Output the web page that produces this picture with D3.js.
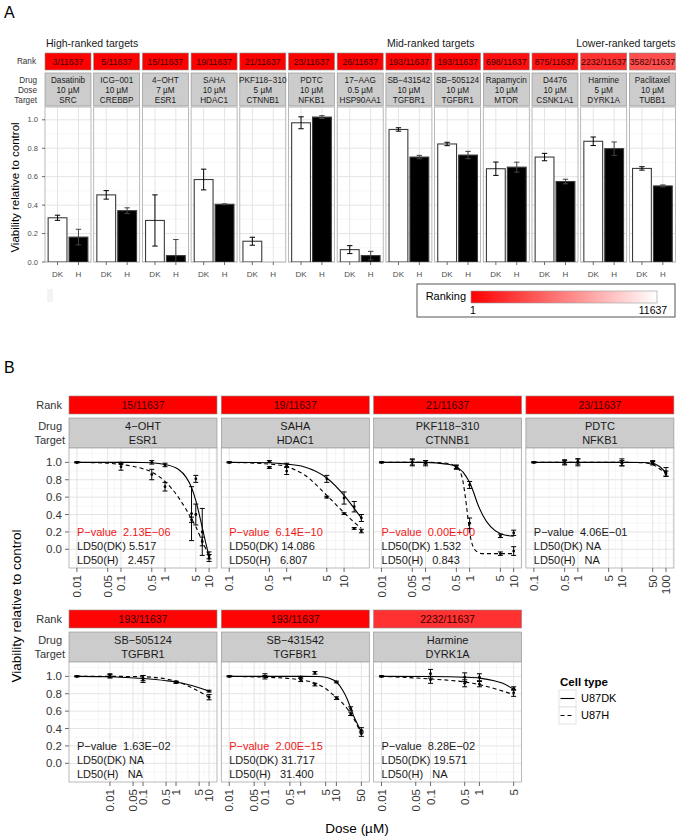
<!DOCTYPE html>
<html><head><meta charset="utf-8">
<script src="https://cdn.jsdelivr.net/npm/d3@7"></script>
<style>body{margin:0;background:#fff} svg text{font-family:"Liberation Sans",Arial,Helvetica,sans-serif}</style>
</head><body><svg id="c" width="679" height="838"></svg>
<script>
// ================= DATA =================
const totalRank = 11637;
// ---- Panel A
const aDrugs   = ["Dasatinib","ICG−001","4−OHT","SAHA","PKF118−310","PDTC","17−AAG","SB−431542","SB−505124","Rapamycin","D4476","Harmine","Paclitaxel"];
const aDoses   = ["10 µM","10 µM","7 µM","10 µM","5 µM","10 µM","0.5 µM","10 µM","10 µM","10 µM","10 µM","5 µM","10 µM"];
const aTargets = ["SRC","CREBBP","ESR1","HDAC1","CTNNB1","NFKB1","HSP90AA1","TGFBR1","TGFBR1","MTOR","CSNK1A1","DYRK1A","TUBB1"];
const aRanks   = [3,5,15,19,21,23,26,193,193,698,875,2232,3582];
const aDK      = [0.311,0.472,0.292,0.580,0.146,0.979,0.087,0.932,0.830,0.656,0.738,0.849,0.658];
const aDKerr   = [0.018,0.030,0.180,0.073,0.028,0.042,0.028,0.012,0.012,0.047,0.026,0.030,0.012];
const aH       = [0.175,0.361,0.045,0.406,0.000,1.019,0.045,0.738,0.752,0.667,0.566,0.797,0.535];
const aHerr    = [0.055,0.020,0.113,0.003,null,0.010,0.030,0.012,0.026,0.035,0.016,0.047,0.007];
const aCells   = ["DK","H"];
const aYTicks  = [0,0.2,0.4,0.6,0.8,1.0];
const aGroups  = ["High-ranked targets","Mid-ranked targets","Lower-ranked targets"];
const aGroupAt = [0,7,12];

// ---- Panel B
const bDrugs   = ["4−OHT","SAHA","PKF118−310","PDTC","SB−505124","SB−431542","Harmine"];
const bTargets = ["ESR1","HDAC1","CTNNB1","NFKB1","TGFBR1","TGFBR1","DYRK1A"];
const bRanks   = [15,19,21,23,193,193,2232];
const bPtext   = ["2.13E−06","6.14E−10","0.00E+00","4.06E−01","1.63E−02","2.00E−15","8.28E−02"];
const bPnum    = [2.13e-6,6.14e-10,0,0.406,0.0163,2.0e-15,0.0828];
const bLD50DK  = ["5.517","14.086","1.532","NA","NA","31.717","19.571"];
const bLD50H   = ["2.457","6.807","0.843","NA","NA","31.400","NA"];
const bXTicks  = [[0.01,0.05,0.1,0.5,1,5,10],[0.1,0.5,1,5,10],[0.01,0.05,0.1,0.5,1,5,10],[0.1,0.5,1,5,10,50,100],
                  [0.01,0.05,0.1,0.5,1,5,10],[0.01,0.05,0.1,0.5,1,5,10,50],[0.01,0.05,0.1,0.5,1,5]];
const bYTicks  = [0,0.2,0.4,0.6,0.8,1.0];
const cellTypes = ["U87DK","U87H"];

// 4-OHT
const ohtDose = [0.01,0.1,0.5,1,4,5,7,10];
const ohtDK   = [1.00,0.99,1.00,0.97,0.41,0.81,0.20,-0.07];
const ohtDKsd = [0.005,0.01,0.02,0.02,0.31,0.04,0.27,0.04];
const ohtH    = [1.00,0.95,0.86,0.72,0.34,0.40,0.09,-0.10];
const ohtHsd  = [0.005,0.04,0.06,0.05,0.03,0.12,0.05,0.04];
const ohtFitDose = [0.01,0.05,0.1,0.3,0.5,1,2,3,4,5,6,7,8,10];
const ohtFitDK   = [1.0,1.0,1.0,0.998,0.995,0.975,0.92,0.83,0.71,0.56,0.40,0.25,0.12,-0.08];
const ohtFitH    = [1.0,0.99,0.975,0.93,0.89,0.78,0.60,0.46,0.35,0.26,0.17,0.09,0.03,-0.08];
// SAHA
const sahaDose = [0.1,0.5,1,5,10,15,20];
const sahaDK   = [1.00,1.01,0.97,0.81,0.59,0.49,0.36];
const sahaDKsd = [0.005,0.01,0.02,0.04,0.07,0.06,0.04];
const sahaH    = [1.00,0.94,0.90,0.60,0.41,0.24,0.21];
const sahaHsd  = [0.005,0.01,0.04,0.01,0.01,0.01,0.02];
const sahaFitDose = [0.1,0.5,1,2,5,10,15,20];
const sahaFitDK   = [1.0,0.995,0.98,0.95,0.82,0.62,0.47,0.36];
const sahaFitH    = [1.0,0.98,0.95,0.86,0.62,0.42,0.31,0.24];
// PKF118-310
const pkfDose = [0.01,0.05,0.1,0.5,1,5,10];
const pkfDK   = [1.00,1.00,0.99,0.94,0.74,0.155,0.19];
const pkfDKsd = [0.005,0.04,0.03,0.02,0.04,0.02,0.03];
const pkfH    = [1.00,1.00,1.00,0.95,0.30,-0.05,-0.02];
const pkfHsd  = [0.005,0.03,0.02,0.02,0.06,0.02,0.05];
const pkfFitDose = [0.01,0.1,0.3,0.5,0.6,0.7,0.8,0.85,0.9,1,1.2,1.5,2,3,5,10];
const pkfFitDK   = [1.0,1.0,0.98,0.95,0.92,0.89,0.85,0.83,0.81,0.77,0.67,0.53,0.39,0.26,0.18,0.15];
const pkfFitH    = [1.0,1.0,0.99,0.95,0.90,0.79,0.60,0.50,0.39,0.20,0.03,-0.03,-0.05,-0.05,-0.05,-0.05];
// PDTC
const pdtcDose = [0.1,0.5,1,10,50,100];
const pdtcDK   = [1.00,1.00,1.01,1.00,1.00,0.87];
const pdtcDKsd = [0.005,0.03,0.03,0.04,0.02,0.03];
const pdtcH    = [1.00,1.00,1.00,0.99,0.99,0.89];
const pdtcHsd  = [0.005,0.02,0.04,0.03,0.02,0.05];
const pdtcFitDose = [0.1,1,10,30,50,70,100];
const pdtcFitDK   = [1.0,1.0,1.0,0.998,0.99,0.955,0.88];
const pdtcFitH    = [1.0,1.0,1.0,0.995,0.975,0.93,0.87];
// SB-505124
const sb5Dose = [0.001,0.01,0.1,1,10];
const sb5DK   = [1.00,1.01,0.97,0.935,0.83];
const sb5DKsd = [0.005,0.02,0.04,0.01,0.01];
const sb5H    = [1.00,1.00,0.98,0.93,0.76];
const sb5Hsd  = [0.005,0.02,0.03,0.01,0.03];
const sb5FitDose = [0.001,0.01,0.1,0.5,1,3,10];
const sb5FitDK   = [1.0,0.995,0.975,0.95,0.935,0.895,0.83];
const sb5FitH    = [1.0,1.0,0.995,0.97,0.945,0.87,0.76];
// SB-431542
const sb4Dose = [0.01,0.1,1,2.5,10,25,50];
const sb4DK   = [1.00,1.00,0.99,1.04,0.935,0.63,0.38];
const sb4DKsd = [0.005,0.03,0.01,0.015,0.01,0.02,0.03];
const sb4H    = [1.00,1.00,0.96,0.905,0.75,0.57,0.34];
const sb4Hsd  = [0.005,0.01,0.02,0.015,0.015,0.02,0.03];
const sb4FitDose = [0.01,0.1,0.5,1,3,5,8,10,15,20,30,40,50];
const sb4FitDK   = [1.0,1.0,1.0,1.0,0.998,0.99,0.96,0.935,0.84,0.74,0.55,0.44,0.36];
const sb4FitH    = [1.0,0.99,0.975,0.96,0.91,0.86,0.79,0.76,0.69,0.63,0.52,0.42,0.35];
// Harmine
const harDose = [0.01,0.1,0.5,1,5];
const harDK   = [1.00,1.03,0.99,0.99,0.86];
const harDKsd = [0.005,0.05,0.05,0.04,0.02];
const harH    = [1.00,0.96,0.92,0.91,0.81];
const harHsd  = [0.005,0.04,0.04,0.03,0.04];
const harFitDose = [0.01,0.1,0.5,1,2,3,5];
const harFitDK   = [1.0,0.998,0.99,0.98,0.95,0.92,0.85];
const harFitH    = [1.0,0.97,0.935,0.905,0.86,0.83,0.79];

const bPanels = [
  {dose:ohtDose, dk:ohtDK, dkSd:ohtDKsd, h:ohtH, hSd:ohtHsd, fd:ohtFitDose, fdk:ohtFitDK, fh:ohtFitH},
  {dose:sahaDose, dk:sahaDK, dkSd:sahaDKsd, h:sahaH, hSd:sahaHsd, fd:sahaFitDose, fdk:sahaFitDK, fh:sahaFitH},
  {dose:pkfDose, dk:pkfDK, dkSd:pkfDKsd, h:pkfH, hSd:pkfHsd, fd:pkfFitDose, fdk:pkfFitDK, fh:pkfFitH},
  {dose:pdtcDose, dk:pdtcDK, dkSd:pdtcDKsd, h:pdtcH, hSd:pdtcHsd, fd:pdtcFitDose, fdk:pdtcFitDK, fh:pdtcFitH},
  {dose:sb5Dose, dk:sb5DK, dkSd:sb5DKsd, h:sb5H, hSd:sb5Hsd, fd:sb5FitDose, fdk:sb5FitDK, fh:sb5FitH},
  {dose:sb4Dose, dk:sb4DK, dkSd:sb4DKsd, h:sb4H, hSd:sb4Hsd, fd:sb4FitDose, fdk:sb4FitDK, fh:sb4FitH},
  {dose:harDose, dk:harDK, dkSd:harDKsd, h:harH, hSd:harHsd, fd:harFitDose, fdk:harFitDK, fh:harFitH}
];

// ================= DRAW =================
const svg = d3.select("#c");
const rankColor = r => d3.interpolateRgb("#ff0000","#ffffff")((r-1)/(totalRank-1));
const GRID_MAJ = "#e4e4e4", GRID_MIN = "#f2f2f2", BORDER = "#a8a8a8", STRIPB = "#8c8c8c", TXT = "#1a1a1a", AX = "#444";

// ---------- Panel A ----------
svg.append("text").attr("x",4).attr("y",18).attr("font-size",16).attr("fill","#000").text("A");
const aLeft0 = 45, aPitch = 48.7, aW = 46;
const aRankY = 53, aRankH = 17, aStripY = 73, aStripH = 33, aPlotY = 107, aPlotB = 262;
const aY = d3.scaleLinear().domain([0,1.09]).range([aPlotB, aPlotY]);
const aBand = d3.scaleBand().domain(aCells).range([0,aW]).paddingInner(0.1).paddingOuter(0.15);
const defs = svg.append("defs");

aGroups.forEach((g,k)=>{
  const idx = aGroupAt[k];
  const anchorEnd = k===2;
  const x = anchorEnd ? aLeft0 + idx*aPitch + aW : aLeft0 + idx*aPitch + 1;
  svg.append("text").attr("x",x).attr("y",47).attr("font-size",10.5).attr("fill",TXT)
    .attr("text-anchor",anchorEnd?"end":"start").text(g);
});
// row labels
svg.append("text").attr("x",36).attr("y",aRankY+aRankH/2).attr("dy","0.35em").attr("text-anchor","end").attr("font-size",8.2).attr("fill","#333").text("Rank");
["Drug","Dose","Target"].forEach((t,j)=>{
  svg.append("text").attr("x",37).attr("y",80+j*10).attr("dy","0.35em").attr("text-anchor","end").attr("font-size",8.2).attr("fill","#333").text(t);
});

aDrugs.forEach((drug,i)=>{
  const x0 = aLeft0 + i*aPitch;
  const g = svg.append("g").attr("transform",`translate(${x0},0)`);
  // rank strip
  g.append("rect").attr("x",0).attr("y",aRankY).attr("width",aW).attr("height",aRankH)
    .attr("fill",rankColor(aRanks[i])).attr("stroke",STRIPB).attr("stroke-width",0.6);
  g.append("text").attr("x",aW/2).attr("y",aRankY+aRankH/2).attr("dy","0.35em").attr("text-anchor","middle")
    .attr("font-size",8.7).attr("fill","#3a0000").text(`${aRanks[i]}/${totalRank}`);
  // drug strip
  g.append("rect").attr("x",0).attr("y",aStripY).attr("width",aW).attr("height",aStripH)
    .attr("fill","#cccccc").attr("stroke",STRIPB).attr("stroke-width",0.6);
  [drug, aDoses[i], aTargets[i]].forEach((t,j)=>{
    g.append("text").attr("x",aW/2).attr("y",80+j*10).attr("dy","0.35em").attr("text-anchor","middle")
      .attr("font-size",8.2).attr("fill",TXT).text(t);
  });
  // plot area
  g.append("rect").attr("x",0).attr("y",aPlotY).attr("width",aW).attr("height",aPlotB-aPlotY).attr("fill","#fff");
  d3.range(0.1,1.05,0.2).forEach(v=>{
    g.append("line").attr("x1",0).attr("x2",aW).attr("y1",aY(v)).attr("y2",aY(v)).attr("stroke",GRID_MIN).attr("stroke-width",0.6);
  });
  aYTicks.forEach(v=>{
    g.append("line").attr("x1",0).attr("x2",aW).attr("y1",aY(v)).attr("y2",aY(v)).attr("stroke",GRID_MAJ).attr("stroke-width",1);
  });
  aCells.forEach(c=>{
    const cx = aBand(c)+aBand.bandwidth()/2;
    g.append("line").attr("x1",cx).attr("x2",cx).attr("y1",aPlotY).attr("y2",aPlotB).attr("stroke",GRID_MAJ).attr("stroke-width",1);
  });
  const cid = "clipA"+i;
  defs.append("clipPath").attr("id",cid).append("rect").attr("x",x0).attr("y",aPlotY).attr("width",aW).attr("height",aPlotB-aPlotY);
  const pg = svg.append("g").attr("clip-path",`url(#${cid})`).append("g").attr("transform",`translate(${x0},0)`);
  const vals = [aDK[i], aH[i]], errs = [aDKerr[i], aHerr[i]];
  aCells.forEach((c,j)=>{
    const v = vals[j];
    pg.append("rect").attr("x",aBand(c)).attr("width",aBand.bandwidth())
      .attr("y",aY(Math.max(0,v))).attr("height",Math.abs(aY(0)-aY(v)))
      .attr("fill", j===0?"#ffffff":"#000000").attr("stroke","#3c3c3c").attr("stroke-width",1.1);
  });
  aCells.forEach((c,j)=>{
    const e = errs[j]; if(e==null) return;
    const v = vals[j], cx = aBand(c)+aBand.bandwidth()/2;
    const yt = aY(v+e), yb = aY(v-e);
    const col = j===0 ? "#000" : "#444";
    pg.append("line").attr("x1",cx).attr("x2",cx).attr("y1",yt).attr("y2",yb).attr("stroke",col).attr("stroke-width",1);
    [yt,yb].forEach(yy=>pg.append("line").attr("x1",cx-2.7).attr("x2",cx+2.7).attr("y1",yy).attr("y2",yy).attr("stroke",col).attr("stroke-width",1));
  });
  g.append("rect").attr("x",0).attr("y",aPlotY).attr("width",aW).attr("height",aPlotB-aPlotY)
    .attr("fill","none").attr("stroke",BORDER).attr("stroke-width",0.8);
  // x ticks
  aCells.forEach(c=>{
    const cx = aBand(c)+aBand.bandwidth()/2;
    g.append("line").attr("x1",cx).attr("x2",cx).attr("y1",aPlotB).attr("y2",aPlotB+3).attr("stroke",AX).attr("stroke-width",0.8);
    g.append("text").attr("x",cx).attr("y",274).attr("dy","0.35em").attr("text-anchor","middle").attr("font-size",8).attr("fill","#4d4d4d").text(c);
  });
});
// y axis A
aYTicks.forEach(v=>{
  svg.append("line").attr("x1",aLeft0-3).attr("x2",aLeft0).attr("y1",aY(v)).attr("y2",aY(v)).attr("stroke",AX).attr("stroke-width",0.8);
  svg.append("text").attr("x",aLeft0-7).attr("y",aY(v)).attr("dy","0.35em").attr("text-anchor","end").attr("font-size",7.5).attr("fill","#4d4d4d").text(d3.format(".1f")(v));
});
svg.append("text").attr("transform",`translate(15,${(aPlotY+aPlotB)/2+3}) rotate(-90)`).attr("text-anchor","middle")
  .attr("dy","0.35em").attr("font-size",11.5).attr("fill","#000").text("Viability relative to control");
// faint artifact
svg.append("rect").attr("x",47).attr("y",289).attr("width",6).attr("height",13).attr("fill","#f3f3f3");
// Ranking legend
const grad = defs.append("linearGradient").attr("id","rankGrad");
grad.append("stop").attr("offset","0%").attr("stop-color",rankColor(1));
grad.append("stop").attr("offset","100%").attr("stop-color",rankColor(totalRank));
svg.append("rect").attr("x",417).attr("y",284).attr("width",258).attr("height",33).attr("fill","#fff").attr("stroke","#555").attr("stroke-width",1);
svg.append("text").attr("x",466).attr("y",296).attr("dy","0.35em").attr("text-anchor","end").attr("font-size",11).attr("fill","#000").text("Ranking");
svg.append("rect").attr("x",471).attr("y",291).attr("width",186).attr("height",12).attr("fill","url(#rankGrad)").attr("stroke","#999").attr("stroke-width",0.6);
const legX = d3.scaleLinear().domain([1,totalRank]).range([473,653]);
[1,totalRank].forEach(v=>{
  svg.append("text").attr("x",legX(v)).attr("y",310.5).attr("dy","0.35em").attr("text-anchor","middle").attr("font-size",10.5).attr("fill","#000").text(v);
});

// ---------- Panel B ----------
svg.append("text").attr("x",4).attr("y",373).attr("font-size",16).attr("fill","#000").text("B");
const bLeft0 = 69, bPitch = 152.3, bW = 148, bPlotH = 120;
const bRows = [{rankY:396, stripY:418, plotY:448},{rankY:610, stripY:632, plotY:662}];
const bYdom = [-0.215, 1.165];

bRows.forEach(r=>{
  svg.append("text").attr("x",62).attr("y",r.rankY+9).attr("dy","0.35em").attr("text-anchor","end").attr("font-size",11).attr("fill","#333").text("Rank");
  svg.append("text").attr("x",62).attr("y",r.stripY+8).attr("dy","0.35em").attr("text-anchor","end").attr("font-size",11).attr("fill","#333").text("Drug");
  svg.append("text").attr("x",65).attr("y",r.stripY+22).attr("dy","0.35em").attr("text-anchor","end").attr("font-size",11).attr("fill","#333").text("Target");
  const y = d3.scaleLinear().domain(bYdom).range([r.plotY+bPlotH, r.plotY]);
  bYTicks.forEach(v=>{
    svg.append("line").attr("x1",bLeft0-4).attr("x2",bLeft0).attr("y1",y(v)).attr("y2",y(v)).attr("stroke",AX).attr("stroke-width",0.8);
    svg.append("text").attr("x",bLeft0-7).attr("y",y(v)).attr("dy","0.35em").attr("text-anchor","end").attr("font-size",11.5).attr("fill","#333").text(d3.format(".1f")(v));
  });
});

const line = (x,y) => d3.line().x(d=>x(d[0])).y(d=>y(d[1])).curve(d3.curveMonotoneX);

bPanels.forEach((p,i)=>{
  const row = i<4?0:1, col = i%4, r = bRows[row];
  const x0 = bLeft0 + col*bPitch;
  const y = d3.scaleLinear().domain(bYdom).range([r.plotY+bPlotH, r.plotY]);
  const lo = d3.min(p.dose.concat(p.fd)), hi = d3.max(p.dose.concat(p.fd));
  const L = Math.log10(hi/lo), e = 0.06*L;
  const x = d3.scaleLog().domain([lo/Math.pow(10,e), hi*Math.pow(10,e)]).range([x0, x0+bW]);
  // strips
  svg.append("rect").attr("x",x0).attr("y",r.rankY).attr("width",bW).attr("height",18)
    .attr("fill",rankColor(bRanks[i])).attr("stroke",STRIPB).attr("stroke-width",0.6);
  svg.append("text").attr("x",x0+bW/2).attr("y",r.rankY+9).attr("dy","0.35em").attr("text-anchor","middle")
    .attr("font-size",10.5).attr("fill","#3a0000").text(`${bRanks[i]}/${totalRank}`);
  svg.append("rect").attr("x",x0).attr("y",r.stripY).attr("width",bW).attr("height",30)
    .attr("fill","#cccccc").attr("stroke",STRIPB).attr("stroke-width",0.6);
  svg.append("text").attr("x",x0+bW/2).attr("y",r.stripY+8).attr("dy","0.35em").attr("text-anchor","middle").attr("font-size",11).attr("fill",TXT).text(bDrugs[i]);
  svg.append("text").attr("x",x0+bW/2).attr("y",r.stripY+22).attr("dy","0.35em").attr("text-anchor","middle").attr("font-size",11).attr("fill",TXT).text(bTargets[i]);
  // plot bg + grid
  svg.append("rect").attr("x",x0).attr("y",r.plotY).attr("width",bW).attr("height",bPlotH).attr("fill","#fff");
  const ticks = bXTicks[i];
  const lt = ticks.map(t=>Math.log10(t));
  const minors = [];
  for(let k=0;k<lt.length-1;k++) minors.push(Math.pow(10,(lt[k]+lt[k+1])/2));
  minors.push(Math.pow(10, lt[0]-(lt[1]-lt[0])/2));
  minors.push(Math.pow(10, lt[lt.length-1]+(lt[lt.length-1]-lt[lt.length-2])/2));
  const [dlo,dhi] = x.domain();
  minors.filter(m=>m>dlo && m<dhi).forEach(m=>{
    svg.append("line").attr("x1",x(m)).attr("x2",x(m)).attr("y1",r.plotY).attr("y2",r.plotY+bPlotH).attr("stroke",GRID_MIN).attr("stroke-width",0.6);
  });
  [-0.1,0.1,0.3,0.5,0.7,0.9,1.1].forEach(v=>{
    svg.append("line").attr("x1",x0).attr("x2",x0+bW).attr("y1",y(v)).attr("y2",y(v)).attr("stroke",GRID_MIN).attr("stroke-width",0.6);
  });
  bYTicks.forEach(v=>{
    svg.append("line").attr("x1",x0).attr("x2",x0+bW).attr("y1",y(v)).attr("y2",y(v)).attr("stroke",GRID_MAJ).attr("stroke-width",1);
  });
  ticks.forEach(t=>{
    svg.append("line").attr("x1",x(t)).attr("x2",x(t)).attr("y1",r.plotY).attr("y2",r.plotY+bPlotH).attr("stroke",GRID_MAJ).attr("stroke-width",1);
  });
  // clipped content
  const cid = "clipB"+i;
  defs.append("clipPath").attr("id",cid).append("rect").attr("x",x0).attr("y",r.plotY).attr("width",bW).attr("height",bPlotH);
  const cg = svg.append("g").attr("clip-path",`url(#${cid})`);
  const ln = line(x,y);
  cg.append("path").attr("d",ln(p.fd.map((d,k)=>[d,p.fh[k]]))).attr("fill","none").attr("stroke","#000").attr("stroke-width",1.1).attr("stroke-dasharray","4,3");
  cg.append("path").attr("d",ln(p.fd.map((d,k)=>[d,p.fdk[k]]))).attr("fill","none").attr("stroke","#000").attr("stroke-width",1.1);
  [[p.dk,p.dkSd],[p.h,p.hSd]].forEach(([m,s])=>{
    p.dose.forEach((d,k)=>{
      if(m[k]==null) return;
      const cx = x(d), yt = y(m[k]+s[k]), yb = y(m[k]-s[k]);
      cg.append("line").attr("x1",cx).attr("x2",cx).attr("y1",yt).attr("y2",yb).attr("stroke","#000").attr("stroke-width",1);
      [yt,yb].forEach(yy=>cg.append("line").attr("x1",cx-2.5).attr("x2",cx+2.5).attr("y1",yy).attr("y2",yy).attr("stroke","#000").attr("stroke-width",1));
      cg.append("circle").attr("cx",cx).attr("cy",y(m[k])).attr("r",1.4).attr("fill","#000");
    });
  });
  // annotations
  const ax = x(lo);
  const sig = bPnum[i] < 0.01;
  const ann = [
    {t:`P−value  ${bPtext[i]}`, v:0.20, c: sig?"#f01818":"#1a1a1a"},
    {t:`LD50(DK) ${bLD50DK[i]}`, v:0.04, c:"#1a1a1a"},
    {t:`LD50(H)   ${bLD50H[i]}`, v:-0.125, c:"#1a1a1a"}
  ];
  ann.forEach(a=>{
    svg.append("text").attr("x",ax).attr("y",y(a.v)).attr("dy","0.35em").attr("font-size",11).attr("fill",a.c)
      .attr("xml:space","preserve").style("white-space","pre").text(a.t);
  });
  // border
  svg.append("rect").attr("x",x0).attr("y",r.plotY).attr("width",bW).attr("height",bPlotH).attr("fill","none").attr("stroke",BORDER).attr("stroke-width",0.8);
  // x ticks
  const by = r.plotY+bPlotH;
  ticks.forEach(t=>{
    svg.append("line").attr("x1",x(t)).attr("x2",x(t)).attr("y1",by).attr("y2",by+4).attr("stroke",AX).attr("stroke-width",0.8);
    svg.append("text").attr("transform",`translate(${x(t)},${by+7}) rotate(-90)`).attr("dy","0.35em").attr("text-anchor","end")
      .attr("font-size",11.5).attr("fill","#333").text(t);
  });
});

// axis titles B
svg.append("text").attr("transform","translate(16,606) rotate(-90)").attr("text-anchor","middle").attr("dy","0.35em")
  .attr("font-size",13.5).attr("fill","#000").text("Viability relative to control");
svg.append("text").attr("x",357).attr("y",828).attr("dy","0.35em").attr("text-anchor","middle").attr("font-size",13.5).attr("fill","#000").text("Dose (µM)");

// legend Cell type
svg.append("text").attr("x",560).attr("y",682).attr("dy","0.35em").attr("font-size",11.5).attr("font-weight","bold").attr("fill","#000").text("Cell type");
cellTypes.forEach((c,k)=>{
  const ky = 690 + k*17;
  svg.append("rect").attr("x",559).attr("y",ky).attr("width",17).attr("height",17).attr("fill","#fff").attr("stroke","#dddddd").attr("stroke-width",0.8);
  svg.append("line").attr("x1",560.5).attr("x2",574.5).attr("y1",ky+8.5).attr("y2",ky+8.5).attr("stroke","#000").attr("stroke-width",1.1)
    .attr("stroke-dasharray", k===1?"4,3":null);
  svg.append("text").attr("x",581).attr("y",ky+8.5).attr("dy","0.35em").attr("font-size",11).attr("fill","#000").text(c);
});
</script></body></html>
